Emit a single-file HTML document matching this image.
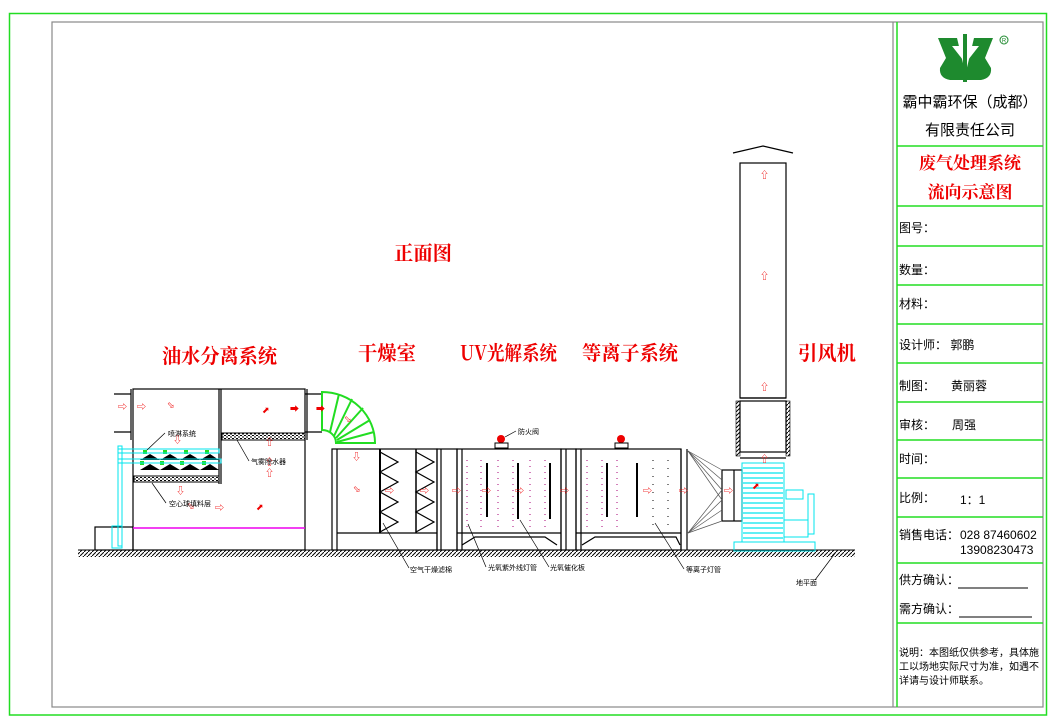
<!DOCTYPE html>
<html><head><meta charset="utf-8"><style>
html,body{margin:0;padding:0;background:#fff}
svg{display:block}
.t{font-family:"Liberation Sans","Noto Sans CJK SC",sans-serif}
</style></head><body>
<svg width="1049" height="722" viewBox="0 0 1049 722" xmlns="http://www.w3.org/2000/svg" class="t">
<defs>
<pattern id="hat" width="4" height="4" patternUnits="userSpaceOnUse"><path d="M0,4 L4,0" stroke="#000" stroke-width="1"/></pattern>
<pattern id="dots" width="4" height="3" patternUnits="userSpaceOnUse"><rect width="4" height="3" fill="#fff"/><rect x="0" y="0" width="2" height="1" fill="#000"/><rect x="2" y="1.5" width="2" height="1" fill="#000"/></pattern>
</defs>
<rect x="9.5" y="13.5" width="1037" height="701.5" fill="none" stroke="#22dd22" stroke-width="1.5"/>
<rect x="52" y="22" width="991" height="685" fill="none" stroke="#888" stroke-width="1.2"/>
<line x1="893" y1="22" x2="893" y2="707" stroke="#888" stroke-width="1.2"/>
<line x1="897" y1="22" x2="897" y2="707" stroke="#22dd22" stroke-width="1.5"/>
<g stroke="#22dd22" stroke-width="1.5">
<line x1="897" y1="146" x2="1043" y2="146"/><line x1="897" y1="206" x2="1043" y2="206"/>
<line x1="897" y1="246" x2="1043" y2="246"/><line x1="897" y1="285" x2="1043" y2="285"/>
<line x1="897" y1="324" x2="1043" y2="324"/><line x1="897" y1="363" x2="1043" y2="363"/>
<line x1="897" y1="402" x2="1043" y2="402"/><line x1="897" y1="440" x2="1043" y2="440"/>
<line x1="897" y1="478" x2="1043" y2="478"/><line x1="897" y1="517" x2="1043" y2="517"/>
<line x1="897" y1="563" x2="1043" y2="563"/><line x1="897" y1="623" x2="1043" y2="623"/>
</g>
<!-- logo -->
<g fill="#1e8a2e">
<path d="M938,38 L957,38 L967,80 L950,80 Q939,78 940,68 L946,58 Z"/>
<path d="M993,38 L974,38 L964,80 L981,80 Q992,78 991,68 L985,58 Z"/>
<rect x="963" y="34" width="4" height="48"/>
</g>
<g fill="#fff"><path d="M952,46 L961,46 L963,60 Z"/><path d="M979,46 L970,46 L968,60 Z"/></g>
<circle cx="1004" cy="40" r="4" fill="none" stroke="#1e8a2e" stroke-width="1"/>
<text x="1004" y="42.5" font-size="6" fill="#1e8a2e" text-anchor="middle">R</text>
<text x="970" y="107" font-size="15" text-anchor="middle">霸中霸环保（成都）</text>
<text x="970" y="135" font-size="15" text-anchor="middle">有限责任公司</text>
<text x="970" y="169" font-size="17" font-weight="bold" fill="#ee0000" text-anchor="middle" font-family="Noto Serif CJK SC,serif">废气处理系统</text>
<text x="970" y="198" font-size="17" font-weight="bold" fill="#ee0000" text-anchor="middle" font-family="Noto Serif CJK SC,serif">流向示意图</text>
<g font-size="12">
<text x="899" y="232">图号：</text>
<text x="899" y="274">数量：</text>
<text x="899" y="308">材料：</text>
<text x="899" y="349">设计师：  郭鹏</text>
<text x="899" y="390">制图：</text><text x="951" y="390">黄丽蓉</text>
<text x="899" y="429">审核：</text><text x="952" y="429">周强</text>
<text x="899" y="463">时间：</text>
<text x="899" y="502">比例：</text><text x="960" y="504">1：1</text>
<text x="899" y="539">销售电话：</text><text x="960" y="539">028  87460602</text>
<text x="960" y="554">13908230473</text>
<text x="899" y="584">供方确认：</text><line x1="958" y1="588" x2="1028" y2="588" stroke="#000"/>
<text x="899" y="613">需方确认：</text><line x1="959" y1="617" x2="1032" y2="617" stroke="#000"/>
</g>
<g font-size="10">
<text x="899" y="656">说明：本图纸仅供参考，具体施</text>
<text x="899" y="670">工以场地实际尺寸为准，如遇不</text>
<text x="899" y="684">详请与设计师联系。</text>
</g>
<g fill="#ee0000" font-size="20" font-family="Noto Serif CJK SC,serif" font-weight="bold">
<text x="394" y="260" textLength="58" lengthAdjust="spacingAndGlyphs">正面图</text>
<text x="162" y="363" textLength="115" lengthAdjust="spacingAndGlyphs">油水分离系统</text>
<text x="358" y="360" textLength="58" lengthAdjust="spacingAndGlyphs">干燥室</text>
<text x="460" y="360" textLength="97" lengthAdjust="spacingAndGlyphs">UV光解系统</text>
<text x="582" y="360" textLength="96" lengthAdjust="spacingAndGlyphs">等离子系统</text>
<text x="798" y="360" textLength="58" lengthAdjust="spacingAndGlyphs">引风机</text>
</g>
<rect x="78" y="550" width="777" height="7" fill="url(#hat)"/>
<line x1="78" y1="550" x2="855" y2="550" stroke="#000"/>
<g fill="none" stroke="#000" stroke-width="1.2">
<rect x="133" y="389" width="172" height="161"/>
<line x1="131" y1="389" x2="131" y2="440"/>
<line x1="114" y1="394" x2="131" y2="394"/><line x1="114" y1="432" x2="131" y2="432"/>
<line x1="219" y1="389" x2="219" y2="484"/><line x1="221" y1="389" x2="221" y2="484"/>
<line x1="305" y1="394" x2="322" y2="394"/><line x1="305" y1="432" x2="322" y2="432"/>
<line x1="307" y1="389" x2="307" y2="440"/>
<rect x="95" y="527" width="38" height="23"/>
<rect x="332" y="449" width="105" height="101"/>
<line x1="337" y1="449" x2="337" y2="550"/>
<line x1="337" y1="533" x2="437" y2="533"/>
<line x1="380" y1="449" x2="380" y2="533" stroke-width="2"/>
<line x1="416" y1="449" x2="416" y2="533" stroke-width="1.5"/>
<polyline points="380,452 398,462 380,472 398,482 380,492 398,502 380,512 398,522 380,532"/>
<polyline points="416,452 434,462 416,472 434,482 416,492 434,502 416,512 434,522 416,532"/>
<rect x="437" y="449" width="20" height="101"/>
<line x1="441" y1="449" x2="441" y2="550"/>
<rect x="457" y="449" width="104" height="101"/>
<line x1="462" y1="449" x2="462" y2="550"/>
<line x1="457" y1="533" x2="561" y2="533"/>
<polyline points="462,545 475,537 545,537 557,545"/>
<rect x="561" y="449" width="15" height="101"/><line x1="566" y1="449" x2="566" y2="550"/>
<rect x="576" y="449" width="105" height="101"/>
<line x1="581" y1="449" x2="581" y2="550"/>
<line x1="576" y1="533" x2="681" y2="533"/>
<polyline points="582,545 595,537 676,537 680,545"/>
<line x1="681" y1="449" x2="681" y2="550"/><line x1="687" y1="449" x2="687" y2="550"/>
<rect x="740" y="163" width="46" height="235"/>
<polyline points="733,153 763,146 793,153"/>
<rect x="740" y="401" width="46" height="51"/>
<line x1="740" y1="398" x2="786" y2="398"/><line x1="740" y1="458" x2="786" y2="458"/>
<rect x="722" y="470" width="20" height="51"/>
<line x1="734" y1="470" x2="734" y2="521"/>
</g>
<rect x="736" y="401" width="4" height="55" fill="url(#hat)" stroke="#000" stroke-width="0.6"/>
<rect x="786" y="401" width="4" height="55" fill="url(#hat)" stroke="#000" stroke-width="0.6"/>
<g stroke="#555" stroke-width="0.7">
<line x1="688" y1="451" x2="722" y2="470"/><line x1="688" y1="451" x2="722" y2="480"/><line x1="688" y1="451" x2="722" y2="490"/><line x1="688" y1="451" x2="722" y2="500"/>
<line x1="688" y1="533" x2="722" y2="521"/><line x1="688" y1="533" x2="722" y2="510"/><line x1="688" y1="533" x2="722" y2="500"/><line x1="688" y1="533" x2="722" y2="490"/>
</g>
<rect x="222" y="433" width="83" height="7" fill="url(#dots)" stroke="#000"/>
<rect x="134" y="476" width="85" height="6" fill="url(#dots)" stroke="#000"/>
<g fill="#000">
<path d="M140,460 L150,454 L160,460 Z"/><path d="M160,460 L170,454 L180,460 Z"/><path d="M180,460 L190,454 L200,460 Z"/><path d="M200,460 L210,454 L219,460 Z"/>
<path d="M140,470 L150,464 L160,470 Z"/><path d="M160,470 L170,464 L180,470 Z"/><path d="M180,470 L190,464 L200,470 Z"/><path d="M200,470 L210,464 L219,470 Z"/>
</g>
<g fill="#22dd22"><rect x="143" y="450" width="4" height="4"/><rect x="163" y="450" width="4" height="4"/><rect x="184" y="450" width="4" height="4"/><rect x="205" y="450" width="4" height="4"/>
<rect x="140" y="461" width="4" height="4"/><rect x="160" y="461" width="4" height="4"/><rect x="180" y="461" width="4" height="4"/><rect x="202" y="461" width="4" height="4"/></g>
<g fill="none" stroke="#00e5ee" stroke-width="1">
<rect x="118" y="449" width="101" height="4"/><rect x="118" y="459" width="103" height="4"/>
<rect x="118" y="446" width="4" height="100"/>
<rect x="112" y="526" width="10" height="22"/>
<rect x="742" y="463" width="42" height="79"/>
<rect x="734" y="542" width="81" height="9"/>
<rect x="786" y="490" width="17" height="9"/>
<rect x="784" y="520" width="24" height="17"/>
<rect x="808" y="494" width="6" height="40"/>
</g>
<g stroke="#00e5ee" stroke-width="1.2">
<line x1="743" y1="468" x2="783" y2="468"/><line x1="743" y1="473" x2="783" y2="473"/><line x1="743" y1="478" x2="783" y2="478"/><line x1="743" y1="483" x2="783" y2="483"/><line x1="743" y1="488" x2="783" y2="488"/><line x1="743" y1="493" x2="783" y2="493"/><line x1="743" y1="498" x2="783" y2="498"/><line x1="743" y1="503" x2="783" y2="503"/><line x1="743" y1="508" x2="783" y2="508"/><line x1="743" y1="513" x2="783" y2="513"/><line x1="743" y1="518" x2="783" y2="518"/><line x1="743" y1="523" x2="783" y2="523"/><line x1="743" y1="528" x2="783" y2="528"/><line x1="743" y1="533" x2="783" y2="533"/><line x1="743" y1="538" x2="783" y2="538"/>
</g>
<line x1="133" y1="528" x2="305" y2="528" stroke="#ee00ee" stroke-width="1.5"/>
<g stroke="#22dd22" stroke-width="2" fill="none">
<path d="M322,392 A53,51 0 0 1 375,443 L336,443 A14,13 0 0 0 322,430 Z"/>
<line x1="322" y1="430" x2="322" y2="392"/>
<line x1="330" y1="432" x2="339" y2="394"/><line x1="334" y1="436" x2="352" y2="399"/><line x1="336" y1="438" x2="363" y2="408"/><line x1="337" y1="440" x2="370" y2="420"/><line x1="337" y1="442" x2="374" y2="432"/>
</g>
<g stroke="#aa0077" stroke-width="1" stroke-dasharray="1,5">
<line x1="467" y1="460" x2="467" y2="530"/><line x1="481" y1="460" x2="481" y2="530"/><line x1="498" y1="460" x2="498" y2="530"/><line x1="513" y1="460" x2="513" y2="530"/><line x1="530" y1="460" x2="530" y2="530"/><line x1="545" y1="460" x2="545" y2="530"/>
<line x1="587" y1="460" x2="587" y2="530"/><line x1="602" y1="460" x2="602" y2="530"/><line x1="617" y1="460" x2="617" y2="530"/>
</g>
<g stroke="#000" stroke-width="1" stroke-dasharray="1,7"><line x1="653" y1="460" x2="653" y2="530"/><line x1="668" y1="460" x2="668" y2="530"/></g>
<g stroke="#000" stroke-width="2">
<line x1="487" y1="463" x2="487" y2="517"/><line x1="518" y1="463" x2="518" y2="519"/><line x1="550" y1="463" x2="550" y2="519"/>
<line x1="607" y1="463" x2="607" y2="517"/><line x1="637" y1="463" x2="637" y2="517"/>
</g>
<g fill="#ee0000"><circle cx="501" cy="439" r="4"/><circle cx="621" cy="439" r="4"/></g>
<g fill="none" stroke="#000"><rect x="495" y="443" width="13" height="5"/><rect x="615" y="443" width="13" height="5"/></g>
<g fill="#ee0000" font-size="9">
<text x="118" y="410">⇨</text><text x="137" y="410">⇨</text><text x="167" y="408">⬂</text><text x="262" y="413">⬈</text><text x="290" y="412">➡</text><text x="316" y="412">➡</text>
<text x="173" y="443">⇩</text><text x="176" y="494">⇩</text><text x="265" y="445">⇧</text><text x="265" y="465">⇧</text><text x="265" y="476">⇧</text><text x="187" y="509">⬂</text><text x="215" y="511">⇨</text><text x="256" y="510">⬈</text>
<text x="352" y="460">⇩</text><text x="353" y="492">⬂</text><text x="385" y="494">⇨</text><text x="420" y="494">⇨</text><text x="344" y="422">⬂</text>
<text x="452" y="494">⇨</text><text x="482" y="494">⇨</text><text x="515" y="494">⇨</text><text x="560" y="494">⇨</text><text x="643" y="494">⇨</text><text x="679" y="494">⇨</text><text x="724" y="494">⇨</text><text x="752" y="489">⬈</text>
<text x="760" y="178">⇧</text><text x="760" y="279">⇧</text><text x="760" y="390">⇧</text><text x="760" y="462">⇧</text>
</g>
<g font-size="7">
<text x="168" y="436">喷淋系统</text><text x="251" y="464">气雾除水器</text><text x="169" y="506">空心球填料层</text>
<text x="518" y="434">防火阀</text><text x="410" y="572">空气干燥滤棉</text><text x="488" y="570">光氧紫外线灯管</text><text x="550" y="570">光氧催化板</text><text x="686" y="572">等离子灯管</text><text x="796" y="585">地平面</text>
</g>
<g stroke="#000" stroke-width="0.7">
<line x1="165" y1="433" x2="147" y2="450"/><line x1="249" y1="461" x2="237" y2="440"/><line x1="166" y1="503" x2="152" y2="483"/>
<line x1="516" y1="431" x2="505" y2="437"/><line x1="409" y1="568" x2="383" y2="523"/><line x1="486" y1="567" x2="468" y2="524"/><line x1="549" y1="567" x2="520" y2="520"/><line x1="684" y1="569" x2="655" y2="523"/><line x1="815" y1="580" x2="836" y2="552"/>
</g>
</svg>
</body></html>
